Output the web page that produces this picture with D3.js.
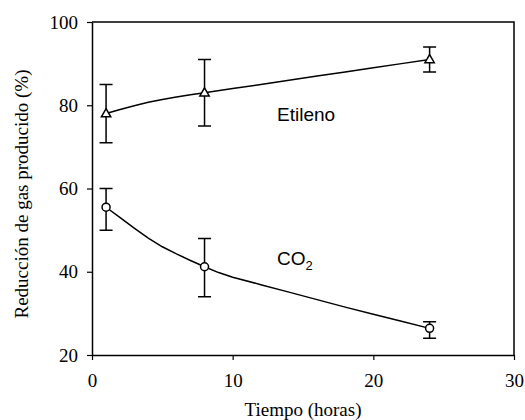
<!DOCTYPE html>
<html>
<head>
<meta charset="utf-8">
<script src="https://cdn.jsdelivr.net/npm/d3@7"></script>
<style>
  html, body { margin: 0; padding: 0; background: #fff; }
  svg { display: block; }
</style>
</head>
<body>
<svg id="chart" width="525" height="420"></svg>
<script>
// Measured points (time in hours, reduction in %), with error-bar limits
const hours = [1, 8, 24];
const etilenoMean = [78, 83, 91];
const etilenoLow = [71, 75, 88];
const etilenoHigh = [85, 91, 94];
const co2Mean = [55.5, 41.2, 26.4];
const co2Low = [50, 34, 24];
const co2High = [60, 48, 28];

// Trend curves drawn through the measurements
const etilenoCurveT = [1, 2, 3, 4, 5, 6, 7, 8, 10, 12, 14, 16, 18, 20, 22, 24];
const etilenoCurveV = [78, 79, 79.9, 80.7, 81.4, 82, 82.5, 83, 84, 85, 86, 87, 88, 89, 90, 91];
const co2CurveT = [1, 2, 3, 4, 5, 6, 7, 8, 9, 10, 12, 14, 16, 18, 20, 22, 24];
const co2CurveV = [55.5, 53, 50.5, 48.1, 46, 44.3, 42.7, 41.2, 39.8, 38.7, 36.9, 35.1, 33.3, 31.5, 29.8, 28.1, 26.4];

const xTicks = [0, 10, 20, 30];
const yTicks = [20, 40, 60, 80, 100];

const svg = d3.select("#chart");
const plotLeft = 92, plotRight = 514, plotTop = 22, plotBottom = 355;

const x = d3.scaleLinear().domain([0, 30]).range([plotLeft, plotRight]);
const y = d3.scaleLinear().domain([20, 100]).range([plotBottom, plotTop]);

const serif = "'Liberation Serif', 'Times New Roman', serif";
const sans = "'Liberation Sans', Arial, sans-serif";

// Frame (top and right)
svg.append("path")
  .attr("d", `M${plotLeft},${plotTop}H${plotRight}V${plotBottom}`)
  .attr("fill", "none").attr("stroke", "#000").attr("stroke-width", 1.5);

// Axes
const xAxis = svg.append("g")
  .attr("transform", `translate(0,${plotBottom})`)
  .call(d3.axisBottom(x).tickValues(xTicks).tickSize(5).tickSizeOuter(0).tickPadding(14));
const yAxis = svg.append("g")
  .attr("transform", `translate(${plotLeft},0)`)
  .call(d3.axisLeft(y).tickValues(yTicks).tickSize(5).tickSizeOuter(0).tickPadding(9));

[xAxis, yAxis].forEach(g => {
  g.attr("font-family", serif).attr("font-size", 19);
  g.select(".domain").attr("stroke", "#000").attr("stroke-width", 1.5);
  g.selectAll(".tick line").attr("stroke", "#000").attr("stroke-width", 1.2);
  g.selectAll(".tick text").attr("fill", "#000")
    .attr("font-family", serif).attr("font-size", 19);
});

// Axis titles
svg.append("text")
  .attr("x", (plotLeft + plotRight) / 2).attr("y", 416)
  .attr("text-anchor", "middle")
  .attr("font-family", serif).attr("font-size", 19)
  .text("Tiempo (horas)");
svg.append("text")
  .attr("transform", `translate(28,194) rotate(-90)`)
  .attr("text-anchor", "middle")
  .attr("font-family", serif).attr("font-size", 19)
  .text("Reducción de gas producido (%)");

// Curves
const line = d3.line().x(d => x(d[0])).y(d => y(d[1]));
const etilenoCurve = d3.zip(etilenoCurveT, etilenoCurveV);
const co2Curve = d3.zip(co2CurveT, co2CurveV);
[etilenoCurve, co2Curve].forEach(c => {
  svg.append("path").datum(c).attr("d", line)
    .attr("fill", "none").attr("stroke", "#000").attr("stroke-width", 1.5);
});

// Error bars
function errorBars(lows, highs) {
  const g = svg.append("g").attr("stroke", "#000").attr("stroke-width", 1.5);
  hours.forEach((t, i) => {
    const cx = x(t), y0 = y(lows[i]), y1 = y(highs[i]);
    g.append("path").attr("d", `M${cx},${y0}V${y1}M${cx - 6.5},${y0}H${cx + 6.5}M${cx - 6.5},${y1}H${cx + 6.5}`);
  });
}
errorBars(etilenoLow, etilenoHigh);
errorBars(co2Low, co2High);

// Markers
const tri = d3.symbol().type(d3.symbolTriangle).size(38);
svg.append("g").selectAll("path").data(d3.zip(hours, etilenoMean)).join("path")
  .attr("d", tri)
  .attr("transform", d => `translate(${x(d[0])},${y(d[1]) + 0.5})`)
  .attr("fill", "#fff").attr("stroke", "#000").attr("stroke-width", 1.5);
svg.append("g").selectAll("circle").data(d3.zip(hours, co2Mean)).join("circle")
  .attr("cx", d => x(d[0])).attr("cy", d => y(d[1])).attr("r", 4)
  .attr("fill", "#fff").attr("stroke", "#000").attr("stroke-width", 1.5);

// Series labels
svg.append("text")
  .attr("x", 277).attr("y", 121)
  .attr("font-family", sans).attr("font-size", 19)
  .text("Etileno");
const co2 = svg.append("text")
  .attr("x", 277).attr("y", 265)
  .attr("font-family", sans).attr("font-size", 19);
co2.append("tspan").text("CO");
co2.append("tspan").attr("dy", 5).attr("font-size", 13).text("2");
</script>
</body>
</html>
